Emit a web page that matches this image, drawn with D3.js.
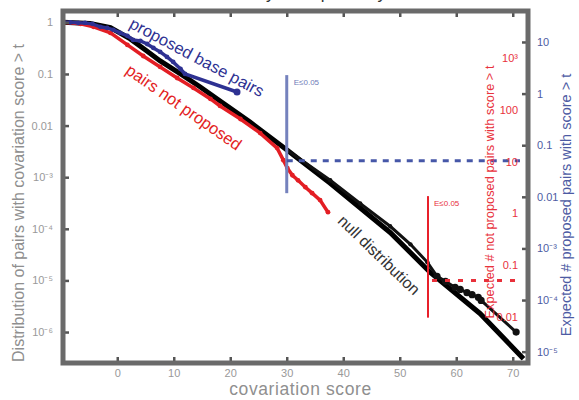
<!DOCTYPE html>
<html>
<head>
<meta charset="utf-8">
<script src="https://cdn.jsdelivr.net/npm/d3@7"></script>
<style>
  body { margin: 0; background: #fff; }
  text { font-family: "Liberation Sans", Arial, Helvetica, sans-serif; }
</style>
</head>
<body>
<svg id="chart"></svg>
<script>
var width = 579,
    height = 400;

// covariation score (x) and fraction of pairs with score > t (y)
var proposedScores = [-9.6, -8.3, -6.9, -5.7, -4.4, -3.0, -1.8, -0.7, 0.5, 1.8, 2.8, 4.1, 5.3, 6.4, 7.6, 8.8, 9.9, 11.2, 12.0, 21.2];
var proposedValues = [1.0, 1.0, 0.98, 0.975, 0.935, 0.82, 0.78, 0.715, 0.625, 0.547, 0.457, 0.436, 0.381, 0.319, 0.267, 0.214, 0.171, 0.125, 0.100, 0.0447];

var notProposedScores = [-9.6, -6.5, -4.2, -1.2, 1.8, 4.6, 7.6, 10.6, 13.5, 16.5, 18.2, 21.8, 25.3, 28.3, 29.4, 30.1, 31.0, 32.0, 33.3, 34.5, 35.9, 37.3];
var notProposedValues = [1.0, 0.935, 0.818, 0.625, 0.365, 0.223, 0.137, 0.0836, 0.0536, 0.0328, 0.024, 0.0134, 0.00715, 0.00366, 0.00214, 0.0015, 0.00109, 8.7e-4, 6.4e-4, 4.9e-4, 3.6e-4, 2.1e-4];

var nullScores = [-9.6, -4.8, -1.2, 2.3, 5.0, 7.6, 11.2, 14.7, 17.7, 23.5, 30.1, 37.7, 48.3, 55.4, 64.2, 71.9];
var nullValues = [1.0, 0.95, 0.79, 0.477, 0.292, 0.179, 0.100, 0.056, 0.0328, 0.0117, 0.00334, 7.6e-4, 8.5e-5, 1.43e-5, 2.29e-6, 3.05e-7];

var nullTailScores = [30.1, 37.7, 43.0, 48.3, 51.9, 54.9, 56.6, 58.1, 59.8, 60.7, 61.9, 62.8, 63.9, 64.4, 70.6];
var nullTailValues = [0.00334, 8.7e-4, 3.1e-4, 1.12e-4, 5.0e-5, 2.24e-5, 1.2e-5, 9.6e-6, 7.3e-6, 6.7e-6, 5.8e-6, 5.3e-6, 4.7e-6, 4.1e-6, 1.0e-6];

var xTicks = [0, 10, 20, 30, 40, 50, 60, 70];
var leftTicks = [1, 0.1, 0.01, 1e-3, 1e-4, 1e-5, 1e-6];
var leftTickLabels = ["1", "0.1", "0.01", "10\u207B\u00B3", "10\u207B\u2074", "10\u207B\u2075", "10\u207B\u2076"];
var blueTicks = [10, 1, 0.1, 0.01, 1e-3, 1e-4, 1e-5];
var blueTickLabels = ["10", "1", "0.1", "0.01", "10\u207B\u00B3", "10\u207B\u2074", "10\u207B\u2075"];
var redTicks = [1000, 100, 10, 1, 0.1, 0.01];
var redTickLabels = ["10\u00B3", "100", "10", "1", "0.1", "0.01"];

var nProposed = 24,
    nNotProposed = 5000,
    eCut = 0.05,
    blueCutScore = 30,
    redCutScore = 55;
// extent of the two threshold markers (fraction on the left axis)
var blueMarkTop = 0.095, blueMarkBottom = 4.9e-4;
var redMarkTop = 4.3e-4, redMarkBottom = 1.9e-6;

// plot box (note: "top" is reserved on window, so use box names)
var boxL = 63, boxR = 528, boxT = 11, boxB = 363;

var svg = d3.select("#chart")
    .attr("width", width)
    .attr("height", height);

svg.append("rect").attr("width", width).attr("height", height).attr("fill", "#fff");

var x = d3.scaleLinear().domain([-9.6, 72.7]).range([boxL, boxR]);
var y = d3.scaleLog().domain([Math.pow(10, 0.22), Math.pow(10, -6.6)]).range([boxT, boxB]);
var yBlue = d3.scaleLog().domain(y.domain().map(function(d) { return d * nProposed; })).range([boxT, boxB]);
var yRed = d3.scaleLog().domain(y.domain().map(function(d) { return d * nNotProposed; })).range([boxT, boxB]);

svg.append("clipPath").attr("id", "clip")
  .append("rect")
    .attr("x", boxL).attr("y", boxT)
    .attr("width", boxR - boxL).attr("height", boxB - boxT);

var plot = svg.append("g").attr("clip-path", "url(#clip)");

var line = d3.line()
    .x(function(d) { return x(d[0]); })
    .y(function(d) { return y(d[1]); });

function pairs(xs, ys) { return xs.map(function(v, i) { return [v, ys[i]]; }); }

// null distribution: thick line plus the empirical tail with dots
var nullData = pairs(nullScores, nullValues);
var tailData = pairs(nullTailScores, nullTailValues);
plot.append("path").datum(nullData)
    .attr("d", line).attr("fill", "none")
    .attr("stroke", "#000").attr("stroke-width", 5);
plot.append("path").datum(tailData)
    .attr("d", line).attr("fill", "none")
    .attr("stroke", "#111").attr("stroke-width", 3);
plot.selectAll(".tail").data(tailData).join("circle")
    .attr("cx", function(d) { return x(d[0]); })
    .attr("cy", function(d) { return y(d[1]); })
    .attr("r", function(d) { return d[0] > 56 ? 3.6 : 2.2; })
    .attr("fill", "#111");

// pairs not proposed
var redData = pairs(notProposedScores, notProposedValues);
plot.append("path").datum(redData)
    .attr("d", line).attr("fill", "none")
    .attr("stroke", "#e31e24").attr("stroke-width", 3.5);
plot.selectAll(".red").data(redData).join("circle")
    .attr("cx", function(d) { return x(d[0]); })
    .attr("cy", function(d) { return y(d[1]); })
    .attr("r", 2.4).attr("fill", "#e31e24");

// proposed base pairs
var blueData = pairs(proposedScores, proposedValues);
plot.append("path").datum(blueData)
    .attr("d", line).attr("fill", "none")
    .attr("stroke", "#2e3192").attr("stroke-width", 3.5);
plot.selectAll(".blue").data(blueData).join("circle")
    .attr("cx", function(d) { return x(d[0]); })
    .attr("cy", function(d) { return y(d[1]); })
    .attr("r", function(d, i) { return i == blueData.length - 1 ? 3.5 : 2.4; })
    .attr("fill", "#2e3192");

// E-value thresholds
svg.append("line")
    .attr("x1", x(blueCutScore)).attr("x2", x(blueCutScore))
    .attr("y1", y(blueMarkTop)).attr("y2", y(blueMarkBottom))
    .attr("stroke", "#7582bd").attr("stroke-width", 3);
svg.append("line")
    .attr("x1", x(blueCutScore)).attr("x2", boxR - 8)
    .attr("y1", yBlue(eCut)).attr("y2", yBlue(eCut))
    .attr("stroke", "#4657a8").attr("stroke-width", 3)
    .attr("stroke-dasharray", "6,6");
svg.append("text")
    .attr("x", x(blueCutScore) + 7).attr("y", y(blueMarkTop) + 10)
    .attr("font-size", 8).attr("fill", "#6f7cb8")
    .text("E\u22640.05");

svg.append("line")
    .attr("x1", x(redCutScore)).attr("x2", x(redCutScore))
    .attr("y1", y(redMarkTop)).attr("y2", y(redMarkBottom))
    .attr("stroke", "#e8202a").attr("stroke-width", 2);
svg.append("line")
    .attr("x1", x(redCutScore) + 4).attr("x2", boxR - 8)
    .attr("y1", yRed(eCut)).attr("y2", yRed(eCut))
    .attr("stroke", "#e8303a").attr("stroke-width", 3)
    .attr("stroke-dasharray", "5,8");
svg.append("text")
    .attr("x", x(redCutScore) + 6).attr("y", y(redMarkTop) + 10)
    .attr("font-size", 8).attr("fill", "#e8303a")
    .text("E\u22640.05");

// curve labels
svg.append("text")
    .attr("transform", "translate(197,57) rotate(28)")
    .attr("text-anchor", "middle").attr("dominant-baseline", "central")
    .attr("font-size", 16.5).attr("fill", "#2e3192")
    .text("proposed base pairs");
svg.append("text")
    .attr("transform", "translate(184,107) rotate(35)")
    .attr("text-anchor", "middle").attr("dominant-baseline", "central")
    .attr("font-size", 16.5).attr("fill", "#e31e24")
    .text("pairs not proposed");
svg.append("text")
    .attr("transform", "translate(379,255) rotate(44)")
    .attr("text-anchor", "middle").attr("dominant-baseline", "central")
    .attr("font-size", 16).attr("fill", "#333")
    .text("null distribution");

// axes
function styleAxis(g, color) {
  g.select(".domain").remove();
  g.selectAll(".tick line").attr("stroke", "#555").attr("stroke-width", 2.5);
  g.selectAll(".tick text").attr("fill", color).attr("font-size", 11)
    .style("font-family", "'Liberation Sans', Arial, sans-serif");
}

svg.append("g")
    .attr("transform", "translate(0," + boxB + ")")
    .call(d3.axisBottom(x).tickValues(xTicks).tickSizeInner(-6).tickPadding(6))
    .call(styleAxis, "#999");
svg.append("g")
    .attr("transform", "translate(0," + boxT + ")")
    .call(d3.axisTop(x).tickValues(xTicks).tickSizeInner(-6).tickFormat(""))
    .call(styleAxis, "#999");
svg.append("g")
    .attr("transform", "translate(" + boxL + ",0)")
    .call(d3.axisLeft(y).tickValues(leftTicks).tickSizeInner(-6).tickPadding(10)
      .tickFormat(function(d, i) { return leftTickLabels[i]; }))
    .call(styleAxis, "#999");
svg.append("g")
    .attr("transform", "translate(" + boxR + ",0)")
    .call(d3.axisRight(yBlue).tickValues(blueTicks).tickSizeInner(-6).tickPadding(9)
      .tickFormat(function(d, i) { return blueTickLabels[i]; }))
    .call(styleAxis, "#4d5ba3");
var redAxis = svg.append("g")
    .attr("transform", "translate(" + boxR + ",0)")
    .call(d3.axisLeft(yRed).tickValues(redTicks).tickSize(0).tickPadding(10)
      .tickFormat(function(d, i) { return redTickLabels[i]; }))
    .call(styleAxis, "#e8323c");
redAxis.selectAll(".tick line").remove();

// frame
svg.append("rect")
    .attr("x", boxL).attr("y", boxT)
    .attr("width", boxR - boxL).attr("height", boxB - boxT)
    .attr("fill", "none").attr("stroke", "#6a6a6a").attr("stroke-width", 5);

// axis titles
svg.append("text")
    .attr("x", (boxL + boxR) / 2 + 5).attr("y", 395)
    .attr("text-anchor", "middle").attr("font-size", 17.5).attr("fill", "#8f8f8f")
    .style("letter-spacing", "0.6px")
    .text("covariation score");
svg.append("text")
    .attr("transform", "translate(24,203) rotate(-90)")
    .attr("text-anchor", "middle").attr("font-size", 16).attr("fill", "#8f8f8f")
    .text("Distribution of pairs with covariation score > t");
svg.append("text")
    .attr("transform", "translate(571,205) rotate(-90)")
    .attr("text-anchor", "middle").attr("font-size", 14.5).attr("fill", "#4d5ba3")
    .text("Expected # proposed pairs with score > t");
svg.append("text")
    .attr("transform", "translate(494,192) rotate(-90)")
    .attr("text-anchor", "middle").attr("font-size", 12.8).attr("fill", "#e8323c")
    .text("Expected # not proposed pairs with score > t");

// title, cut off at the top of the picture
svg.append("text")
    .attr("x", 292).attr("y", -1)
    .attr("text-anchor", "middle").attr("font-size", 17).attr("fill", "#333")
    .text("Sensitivity and specificity");
</script>
</body>
</html>
